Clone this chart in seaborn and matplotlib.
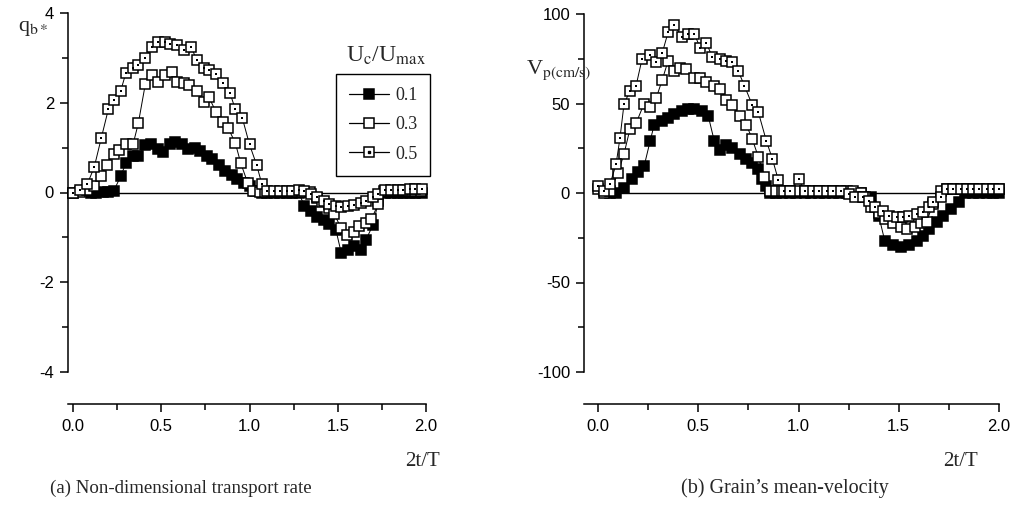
import matplotlib
matplotlib.use("Agg")
import matplotlib.pyplot as plt
import numpy as np
import pandas as pd
import seaborn as sns
from matplotlib.lines import Line2D
from matplotlib.ticker import MultipleLocator

sns.set_theme(style="ticks")
plt.rcParams["font.family"] = ["Liberation Sans", "DejaVu Sans"]
plt.rcParams["mathtext.fontset"] = "stix"
plt.rcParams["axes.unicode_minus"] = False

series_labels = ["0.1", "0.3", "0.5"]

# ---- (a) non-dimensional transport rate q_b* ----
qa_x_01 = [0.10, 0.13, 0.17, 0.20, 0.23, 0.27, 0.30, 0.34, 0.37, 0.41, 0.44, 0.48, 0.51, 0.55,
           0.58, 0.62, 0.65, 0.69, 0.72, 0.76, 0.79, 0.83, 0.86, 0.90, 0.93, 0.97, 1.00, 1.03,
           1.07, 1.10, 1.14, 1.17, 1.21, 1.24, 1.28, 1.31, 1.35, 1.38, 1.42, 1.45, 1.49, 1.52,
           1.56, 1.59, 1.63, 1.66, 1.70, 1.73, 1.77, 1.80, 1.84, 1.87, 1.91, 1.94, 1.98]
qa_y_01 = [0.00, 0.00, 0.01, 0.02, 0.03, 0.36, 0.66, 0.82, 0.82, 1.05, 1.07, 0.96, 0.91, 1.08,
           1.12, 1.08, 0.97, 1.00, 0.92, 0.82, 0.75, 0.62, 0.48, 0.38, 0.30, 0.22, 0.14, 0.03,
           0.00, 0.00, 0.00, 0.00, 0.00, 0.00, 0.00, -0.30, -0.42, -0.55, -0.62, -0.70, -0.84, -1.35,
           -1.28, -1.20, -1.28, -1.05, -0.72, -0.20, 0.00, 0.00, 0.00, 0.00, 0.00, 0.00, 0.00]

qa_x_03 = [0.00, 0.04, 0.08, 0.12, 0.16, 0.19, 0.23, 0.26, 0.30, 0.34, 0.37, 0.41, 0.45, 0.48,
           0.52, 0.56, 0.59, 0.63, 0.66, 0.70, 0.74, 0.77, 0.81, 0.85, 0.88, 0.92, 0.95, 0.99,
           1.02, 1.06, 1.09, 1.13, 1.16, 1.20, 1.23, 1.27, 1.30, 1.34, 1.38, 1.41, 1.45, 1.48,
           1.52, 1.55, 1.59, 1.62, 1.66, 1.69, 1.73, 1.76, 1.80, 1.83, 1.87, 1.90, 1.94, 1.97]
qa_y_03 = [0.00, 0.02, 0.06, 0.15, 0.36, 0.62, 0.85, 0.95, 1.08, 1.07, 1.54, 2.42, 2.62, 2.46,
           2.61, 2.68, 2.46, 2.45, 2.40, 2.27, 2.01, 2.12, 1.80, 1.58, 1.43, 1.10, 0.66, 0.21,
           0.04, 0.02, 0.02, 0.02, 0.02, 0.02, 0.02, 0.02, 0.02, 0.02, -0.12, -0.22, -0.35, -0.48,
           -0.80, -0.95, -0.88, -0.75, -0.68, -0.60, -0.25, 0.04, 0.04, 0.04, 0.04, 0.04, 0.04, 0.04]

qa_x_05 = [0.00, 0.04, 0.08, 0.12, 0.16, 0.20, 0.23, 0.27, 0.30, 0.34, 0.37, 0.41, 0.45, 0.48,
           0.52, 0.55, 0.59, 0.63, 0.67, 0.70, 0.74, 0.77, 0.81, 0.85, 0.89, 0.92, 0.96, 1.00,
           1.04, 1.07, 1.10, 1.14, 1.17, 1.21, 1.24, 1.28, 1.31, 1.35, 1.38, 1.42, 1.45, 1.49,
           1.52, 1.56, 1.59, 1.63, 1.66, 1.70, 1.73, 1.77, 1.80, 1.84, 1.87, 1.91, 1.94, 1.98]
qa_y_05 = [0.00, 0.06, 0.18, 0.56, 1.21, 1.85, 2.07, 2.26, 2.67, 2.77, 2.85, 3.00, 3.24, 3.36,
           3.36, 3.31, 3.28, 3.18, 3.25, 2.95, 2.78, 2.74, 2.65, 2.44, 2.21, 1.85, 1.65, 1.07,
           0.62, 0.19, 0.04, 0.04, 0.04, 0.04, 0.04, 0.05, 0.04, -0.03, -0.10, -0.18, -0.25, -0.30,
           -0.33, -0.30, -0.28, -0.24, -0.18, -0.10, -0.03, 0.05, 0.06, 0.06, 0.06, 0.07, 0.07, 0.07]

# ---- (b) grain's mean velocity V_p (cm/s) ----
vb_x_01 = [0.06, 0.09, 0.13, 0.17, 0.20, 0.23, 0.26, 0.28, 0.32, 0.35, 0.38, 0.42, 0.45, 0.48,
           0.52, 0.55, 0.58, 0.61, 0.64, 0.67, 0.71, 0.74, 0.77, 0.80, 0.82, 0.84, 0.86, 0.89,
           0.92, 0.96, 0.99, 1.03, 1.06, 1.10, 1.13, 1.17, 1.20, 1.24, 1.27, 1.31, 1.36, 1.40,
           1.43, 1.47, 1.51, 1.55, 1.59, 1.62, 1.65, 1.69, 1.72, 1.76, 1.80, 1.83, 1.87, 1.90,
           1.94, 1.97, 2.00]
vb_y_01 = [0, 0, 3, 8, 11.5, 15, 29, 38, 40, 42, 44, 46, 47, 47,
           46, 43, 29, 24, 27, 25, 22, 19, 16.5, 13.5, 8, 4, 0, 0,
           0, 0, 0, 0, 0, 0, 0, 0, 0, 0, 0, 0, -2, -12.6,
           -26.6, -29, -30, -29, -27, -24, -20, -16, -12.6, -9, -5, 0, 0, 0,
           0, 0, 0]

vb_x_03 = [0.00, 0.03, 0.06, 0.10, 0.13, 0.16, 0.19, 0.23, 0.26, 0.29, 0.32, 0.35, 0.38, 0.41,
           0.44, 0.48, 0.51, 0.54, 0.58, 0.61, 0.64, 0.67, 0.71, 0.74, 0.77, 0.80, 0.83, 0.86,
           0.89, 0.92, 0.96, 0.99, 1.03, 1.06, 1.10, 1.13, 1.17, 1.20, 1.24, 1.27, 1.31, 1.33,
           1.36, 1.40, 1.43, 1.47, 1.51, 1.54, 1.58, 1.61, 1.64, 1.67, 1.71, 1.74, 1.77, 1.81,
           1.84, 1.87, 1.90, 1.94, 1.97, 2.00]
vb_y_03 = [2, 0, 1, 11, 22, 36, 39, 50, 48, 53, 63, 74, 68, 70,
           69, 64, 64, 62, 60, 58, 52, 49, 43, 38, 30, 20, 9, 1,
           1, 1, 1, 1, 1, 1, 1, 1, 1, 1, 1, 1, 0, -2,
           -8, -11, -14.5, -17, -19, -20, -19, -17, -16, -6, 1, 2, 2, 2,
           2, 2, 2, 2, 2, 2]

vb_x_05 = [0.00, 0.03, 0.06, 0.09, 0.11, 0.13, 0.16, 0.19, 0.22, 0.26, 0.29, 0.32, 0.35, 0.38,
           0.42, 0.45, 0.48, 0.51, 0.54, 0.57, 0.61, 0.64, 0.67, 0.70, 0.73, 0.77, 0.80, 0.84,
           0.87, 0.90, 0.93, 0.96, 1.00, 1.03, 1.07, 1.10, 1.14, 1.17, 1.21, 1.25, 1.28, 1.32,
           1.35, 1.38, 1.42, 1.45, 1.49, 1.52, 1.55, 1.59, 1.62, 1.65, 1.67, 1.71, 1.74, 1.77,
           1.81, 1.84, 1.87, 1.90, 1.94, 1.97, 2.00]
vb_y_05 = [4, 1, 5, 16, 31, 50, 57, 60, 75, 77, 73, 78, 90, 94,
           87, 89, 89, 81, 84, 76, 75, 74, 73, 68, 60, 49, 45, 29,
           19, 7, 1, 1, 8, 1, 1, 1, 1, 1, 1, -0.5, -2, -2.4,
           -4.3, -8, -9.9, -12.6, -13.6, -13.6, -12.6, -11.7, -10.8, -8, -5.2, -2.4, 2, 2,
           2, 2, 2, 2, 2, 2, 2]

panel_a = [(qa_x_01, qa_y_01), (qa_x_03, qa_y_03), (qa_x_05, qa_y_05)]
panel_b = [(vb_x_01, vb_y_01), (vb_x_03, vb_y_03), (vb_x_05, vb_y_05)]
faces = ["black", "white", "white"]
dots = [False, False, True]

W, H = 1014, 512
fig = plt.figure(figsize=(W / 100, H / 100), dpi=100)
fig.patch.set_facecolor("white")
axL = fig.add_axes([68 / W, 1 - 372 / H, (426 - 68) / W, (372 - 13) / H])
axR = fig.add_axes([584 / W, 1 - 372 / H, (999 - 584) / W, (372 - 14) / H])

MS = 7.4


def draw(ax, data):
    for i, ((xs, ys), face, dot) in enumerate(zip(data, faces, dots)):
        df = pd.DataFrame({"x": xs, "y": ys})
        sns.lineplot(data=df, x="x", y="y", ax=ax, sort=False, estimator=None,
                     color="black", linewidth=0.7, marker="s", markersize=MS,
                     markerfacecolor=face, markeredgecolor="black",
                     markeredgewidth=1.1, zorder=3 + 2 * i, clip_on=False)
        if dot:
            sns.scatterplot(data=df, x="x", y="y", ax=ax, color="black", marker="s",
                            s=2.2, linewidth=0, zorder=4 + 2 * i, clip_on=False)


for ax, data, ylim, major, minor, x0 in [
        (axL, panel_a, (-4, 4), 2, 1, -5 / 176.5),
        (axR, panel_b, (-100, 100), 50, 25, -14 / 200.5)]:
    ax.set_facecolor("white")
    ax.hlines(0, 0, 2, color="black", linewidth=1.0, zorder=2)
    draw(ax, data)
    ax.set_xlim(x0, 2.0)
    ax.set_ylim(*ylim)
    ax.xaxis.set_major_locator(MultipleLocator(0.5))
    ax.xaxis.set_minor_locator(MultipleLocator(0.25))
    ax.yaxis.set_major_locator(MultipleLocator(major))
    ax.yaxis.set_minor_locator(MultipleLocator(minor))
    ax.xaxis.set_major_formatter(matplotlib.ticker.FormatStrFormatter("%.1f"))
    ax.set_xlabel("")
    ax.set_ylabel("")
    for s in ["top", "right"]:
        ax.spines[s].set_visible(False)
    for s in ["left", "bottom"]:
        ax.spines[s].set_color("black")
        ax.spines[s].set_linewidth(1.1)
    ax.spines["bottom"].set_position(("outward", 23))
    ax.tick_params(which="both", direction="out", color="black", width=1.1,
                   labelcolor="black", labelsize=12, bottom=True, left=True)
    ax.tick_params(which="major", length=6, pad=4)
    ax.tick_params(which="minor", length=4)
    ax.tick_params(axis="x", which="major", pad=5)
    for lab in ax.get_xticklabels() + ax.get_yticklabels():
        lab.set_family(["Liberation Sans", "DejaVu Sans"])

serif = "Liberation Serif"

# legend
handles = []
for face, dot in zip(faces, dots):
    sq = Line2D([], [], color="black", linewidth=0.9, marker="s", markersize=MS,
                markerfacecolor=face, markeredgecolor="black", markeredgewidth=1.1)
    if dot:
        dt = Line2D([], [], linestyle="none", marker="s", markersize=1.5,
                    markerfacecolor="black", markeredgecolor="black")
        handles.append((sq, dt))
    else:
        handles.append(sq)
leg = axL.legend(handles, series_labels, loc="upper left",
                 bbox_to_anchor=(336 / W, 1 - 74 / H), bbox_transform=fig.transFigure,
                 borderaxespad=0, prop={"family": serif, "size": 13},
                 handlelength=2.2, labelspacing=0.68, borderpad=0.72,
                 handletextpad=0.35, fancybox=False, edgecolor="black",
                 facecolor="white", framealpha=1)
leg.get_frame().set_linewidth(1.0)
leg.set_zorder(20)

fig.text(386 / W, 1 - 56 / H, r"U$_{\mathrm{c}}$/U$_{\mathrm{max}}$", ha="center",
         va="center", family=serif, size=17)

# axis titles
fig.text(18 / W, 1 - 28 / H, r"q$_{\mathrm{b*}}$", ha="left", va="center",
         family=serif, size=16)
fig.text(526 / W, 1 - 70 / H, r"V$_{\mathrm{p(cm/s)}}$", ha="left", va="center",
         family=serif, size=16)
fig.text(422 / W, 1 - 462 / H, "2t/T", ha="center", va="center", family=serif, size=15)
fig.text(960 / W, 1 - 462 / H, "2t/T", ha="center", va="center", family=serif, size=15)

# captions
fig.text(50 / W, 1 - 488 / H, "(a) Non-dimensional transport rate", ha="left",
         va="center", family=serif, size=13.6)
fig.text(681 / W, 1 - 488 / H, "(b) Grain\u2019s mean-velocity", ha="left",
         va="center", family=serif, size=14.5)

fig.savefig("out.png", dpi=100, facecolor="white")
